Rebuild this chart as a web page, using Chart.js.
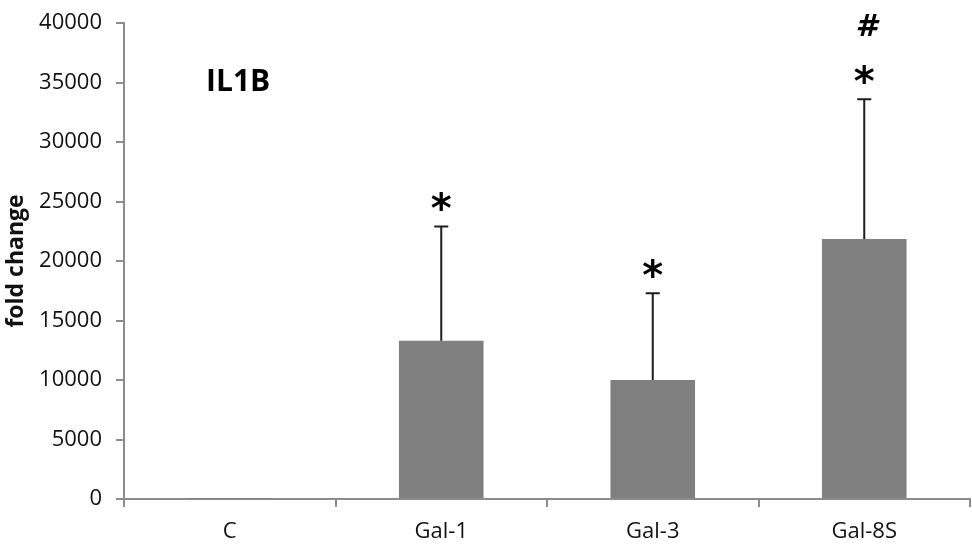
<!DOCTYPE html>
<html>
<head>
<meta charset="utf-8">
<script src="https://cdn.jsdelivr.net/npm/chart.js@4/dist/chart.umd.min.js"></script>
<style>
  html, body { margin: 0; padding: 0; background: #ffffff; }
  #wrap { width: 972px; height: 545px; position: relative; }
</style>
</head>
<body>
<div id="wrap"><canvas id="chart" width="972" height="545"></canvas></div>
<script>
// IL1B expression, fold change vs control
const categories = ['C', 'Gal-1', 'Gal-3', 'Gal-8S'];
const meanValues = [1, 13300, 10000, 21850];
const sdValues = [0, 9600, 7300, 11750];
const starMarks = [false, true, true, true];   // * significance vs control
const hashMarks = [false, false, false, true]; // # significance vs other galectins
const yTicks = [0, 5000, 10000, 15000, 20000, 25000, 30000, 35000, 40000];
const panelTitle = 'IL1B';

const axisGrey = '#8c8c8c';
const textColor = '#111111';

const errorBarsPlugin = {
  id: 'errorBars',
  afterDatasetsDraw(chart) {
    const ctx = chart.ctx;
    const meta = chart.getDatasetMeta(0);
    const yScale = chart.scales.y;
    ctx.save();
    meta.data.forEach((bar, i) => {
      const sd = sdValues[i];
      const x = bar.x;
      const yBase = yScale.getPixelForValue(meanValues[i]);
      const yTop = yScale.getPixelForValue(meanValues[i] + sd);
      if (sd > 0) {
        ctx.strokeStyle = '#1e1e1e';
        ctx.lineWidth = 2;
        ctx.beginPath();
        ctx.moveTo(x, yBase);
        ctx.lineTo(x, yTop);
        ctx.moveTo(x - 7, yTop);
        ctx.lineTo(x + 7, yTop);
        ctx.stroke();
      }
      // significance symbols stacked above the error bar
      ctx.fillStyle = '#000000';
      ctx.textAlign = 'center';
      ctx.textBaseline = 'alphabetic';
      let cy = yTop - 25;
      if (starMarks[i]) {
        ctx.font = 'bold 40px "DejaVu Sans"';
        const m = ctx.measureText('*');
        const h = m.actualBoundingBoxAscent + m.actualBoundingBoxDescent;
        ctx.fillText('*', x, cy + h / 2 - m.actualBoundingBoxDescent);
        cy -= 49;
      }
      if (hashMarks[i]) {
        ctx.font = 'bold italic 31px "DejaVu Sans"';
        const m = ctx.measureText('#');
        const h = m.actualBoundingBoxAscent + m.actualBoundingBoxDescent;
        ctx.fillText('#', x + 2, cy + h / 2 - m.actualBoundingBoxDescent);
      }
    });
    // panel label
    const area = chart.chartArea;
    ctx.font = 'bold 30px "Open Sans"';
    ctx.textAlign = 'left';
    ctx.textBaseline = 'middle';
    ctx.fillStyle = '#000000';
    ctx.fillText(panelTitle, area.left + 82, yScale.getPixelForValue(35000));
    ctx.restore();
  }
};

new Chart(document.getElementById('chart'), {
  type: 'bar',
  data: {
    labels: categories,
    datasets: [{
      data: meanValues,
      backgroundColor: '#808080',
      borderWidth: 0,
      barPercentage: 0.4,
      categoryPercentage: 1.0
    }]
  },
  options: {
    responsive: false,
    animation: false,
    devicePixelRatio: 1,
    layout: { padding: { top: 23, right: 2, left: 0, bottom: 0 } },
    plugins: {
      legend: { display: false },
      tooltip: { enabled: false }
    },
    scales: {
      x: {
        offset: true,
        grid: {
          offset: true,
          drawOnChartArea: false,
          drawTicks: true,
          tickLength: 8,
          color: axisGrey,
          lineWidth: 2
        },
        border: { color: axisGrey, width: 2 },
        ticks: {
          color: textColor,
          font: { family: 'Open Sans', size: 22 },
          padding: 12
        },
        afterFit(scale) {
          scale.height = 46;
          scale.paddingLeft = 0;
          scale.paddingRight = 0;
        }
      },
      y: {
        min: 0,
        max: 40000,
        afterBuildTicks(scale) { scale.ticks = yTicks.map(v => ({ value: v })); },
        grid: {
          drawOnChartArea: false,
          drawTicks: true,
          tickLength: 8,
          color: axisGrey,
          lineWidth: 2
        },
        border: { color: axisGrey, width: 2 },
        ticks: {
          color: textColor,
          font: { family: 'Open Sans', size: 22 },
          padding: 14,
          callback: (v) => String(v)
        },
        title: {
          display: true,
          text: 'fold change',
          color: textColor,
          font: { family: 'Open Sans', size: 23, weight: 'bold' },
          padding: { top: 3, bottom: 0 }
        },
        afterFit(scale) {
          scale.width = 124;
          scale.paddingTop = 0;
          scale.paddingBottom = 0;
        }
      }
    }
  },
  plugins: [errorBarsPlugin]
});
</script>
</body>
</html>
